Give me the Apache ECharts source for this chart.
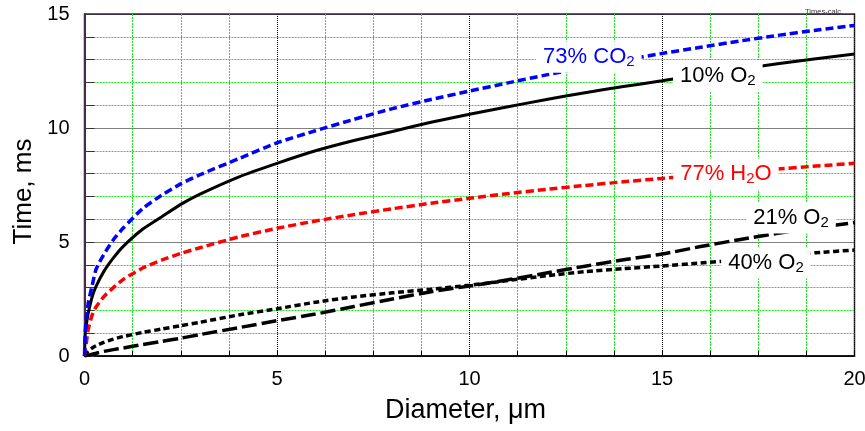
<!DOCTYPE html>
<html>
<head>
<meta charset="utf-8">
<script src="https://cdn.jsdelivr.net/npm/echarts@6/dist/echarts.min.js"></script>
<style>
  html, body { margin: 0; padding: 0; background: #ffffff; }
  #chart { width: 865px; height: 431px; }
</style>
</head>
<body>
<div id="chart"></div>
<script>
// Particle diameter (µm) shared by all curves
const diameters = [0, 0.02, 0.05, 0.1, 0.2, 0.3, 0.5, 0.75, 1, 1.5, 2, 2.5, 3, 4, 5, 6, 7, 8, 9, 10, 11, 12, 13, 14, 15, 16, 17, 18, 19, 20];

// Time (ms) for each atmosphere
const co2_73 = [0, 1.1, 1.7, 2.35, 3.1, 3.8, 4.45, 5.1, 5.6, 6.45, 7.05, 7.55, 7.95, 8.65, 9.35, 9.88, 10.38, 10.85, 11.25, 11.62, 11.98, 12.33, 12.66, 12.97, 13.27, 13.54, 13.81, 14.06, 14.29, 14.5];
const o2_10  = [0, 1.0, 1.4, 1.9, 2.6, 3.05, 3.7, 4.3, 4.8, 5.55, 6.1, 6.65, 7.1, 7.85, 8.45, 9.0, 9.45, 9.85, 10.25, 10.6, 10.93, 11.25, 11.55, 11.82, 12.07, 12.33, 12.58, 12.82, 13.04, 13.25];
const h2o_77 = [0, 0.3, 0.6, 1.2, 1.8, 2.15, 2.6, 3.0, 3.35, 3.85, 4.2, 4.5, 4.75, 5.22, 5.6, 5.92, 6.2, 6.46, 6.7, 6.92, 7.12, 7.31, 7.48, 7.64, 7.79, 7.93, 8.07, 8.2, 8.33, 8.45];
const o2_21  = [0, 0.01, 0.02, 0.04, 0.08, 0.12, 0.2, 0.28, 0.35, 0.5, 0.64, 0.78, 0.94, 1.24, 1.55, 1.84, 2.17, 2.5, 2.82, 3.07, 3.34, 3.64, 3.94, 4.22, 4.47, 4.8, 5.1, 5.38, 5.62, 5.85];
const o2_40  = [0, 0.06, 0.12, 0.22, 0.35, 0.45, 0.6, 0.74, 0.85, 1.03, 1.18, 1.33, 1.48, 1.8, 2.07, 2.36, 2.59, 2.77, 2.93, 3.1, 3.31, 3.52, 3.7, 3.83, 3.95, 4.08, 4.22, 4.38, 4.53, 4.65];

// Curve names as drawn next to each curve
const curveNames = ['73% CO{s|2}', '10% O{s|2}', '77% H{s|2}O', '21% O{s|2}', '40% O{s|2}'];

const FONT = '"Liberation Sans", Arial, Helvetica, sans-serif';
const pairs = arr => diameters.map((d, i) => [d, arr[i]]);

function curve(values, color, width, dash) {
  return {
    type: 'line',
    data: pairs(values),
    smooth: 0.2,
    symbol: 'none',
    silent: true,
    z: 3,
    lineStyle: { color: color, width: width, type: dash, cap: 'butt' }
  };
}

// Name tags sit on a white box that hides the curve and grid beneath
function tag(x, y, textIdx, color) {
  return {
    value: [x, y],
    label: {
      formatter: curveNames[textIdx],
      color: color,
      rich: {
        s: { fontSize: 15, lineHeight: 10, verticalAlign: 'bottom', color: color, fontFamily: FONT }
      }
    }
  };
}

const chart = echarts.init(document.getElementById('chart'), null, { renderer: 'canvas' });

const minorGrid = { show: true, lineStyle: { color: '#19e619', width: 1, type: [2, 1] } };
const majorGrid = { show: true, lineStyle: { color: '#000000', width: 1, type: [1, 1] } };

chart.setOption({
  animation: false,
  backgroundColor: '#ffffff',
  title: {
    text: 'Times-calc',
    right: 19,
    top: 3,
    textStyle: { fontSize: 7.5, fontWeight: 'normal', color: '#333333', fontFamily: FONT }
  },
  grid: {
    left: 84.5, right: 10.5, top: 14, bottom: 75,
    show: true,
    borderColor: '#4d1f4d',
    borderWidth: 1.5,
    outerBoundsMode: 'none',
    containLabel: false
  },
  xAxis: {
    type: 'value',
    min: 0, max: 20, interval: 5,
    name: 'Diameter, μm',
    nameLocation: 'middle',
    nameGap: 41,
    nameTextStyle: { fontSize: 27, color: '#000', fontFamily: FONT, padding: [0, 8, 0, 0] },
    axisLine: { show: true, lineStyle: { color: '#000', width: 1.5 } },
    axisTick: { show: true, inside: true, length: 5, lineStyle: { color: '#000' } },
    minorTick: { show: true, splitNumber: 4, length: 5, lineStyle: { color: '#000' } },
    axisLabel: { fontSize: 20, color: '#000', margin: 13, fontFamily: FONT },
    splitLine: majorGrid,
    minorSplitLine: minorGrid
  },
  yAxis: {
    type: 'value',
    min: 0, max: 15, interval: 5,
    name: 'Time, ms',
    nameLocation: 'middle',
    nameGap: 42,
    nameRotate: 90,
    nameTextStyle: { fontSize: 26, color: '#000', fontFamily: FONT, padding: [0, 13, 0, 0] },
    axisLine: { show: true, lineStyle: { color: '#4a2a4a', width: 2 } },
    axisTick: { show: true, inside: true, length: 10, lineStyle: { color: '#333' } },
    minorTick: { show: true, splitNumber: 5, length: 10, lineStyle: { color: '#333' } },
    axisLabel: { fontSize: 20, color: '#000', margin: 15, fontFamily: FONT },
    splitLine: majorGrid,
    minorSplitLine: minorGrid
  },
  series: [
    curve(o2_21, '#000000', 3.5, [15, 5]),
    curve(o2_40, '#000000', 3.5, [6, 3.5]),
    curve(h2o_77, '#ff0000', 3.5, [8, 4]),
    curve(o2_10, '#000000', 3, 'solid'),
    curve(co2_73, '#0000ff', 3.5, [8, 4]),
    {
      type: 'scatter',
      silent: true,
      z: 10,
      symbolSize: 0,
      itemStyle: { color: '#ffffff', opacity: 1 },
      label: {
        show: true,
        position: 'inside',
        fontSize: 22,
        lineHeight: 25,
        fontFamily: FONT,
        opacity: 1,
        backgroundColor: '#ffffff',
        padding: [3, 7, 3, 7]
      },
      data: [
        tag(13.1, 13.1, 0, '#0000ff'),
        tag(16.45, 12.3, 1, '#000000'),
        tag(16.66, 7.98, 2, '#ff0000'),
        tag(18.35, 6.05, 3, '#000000'),
        tag(17.7, 4.08, 4, '#000000')
      ]
    }
  ]
});
</script>
</body>
</html>
